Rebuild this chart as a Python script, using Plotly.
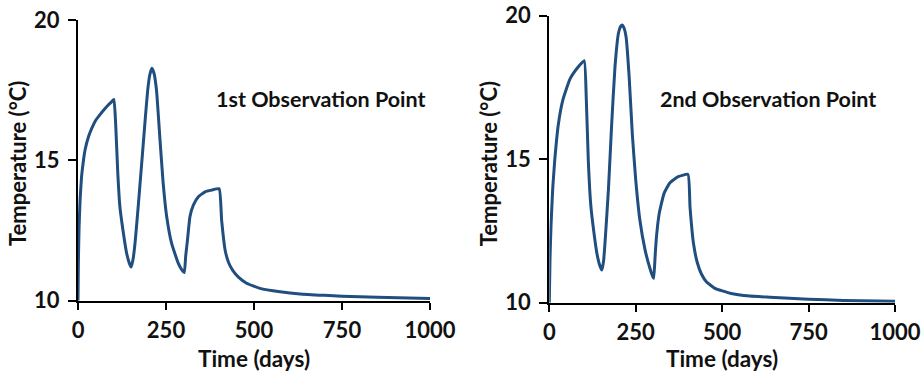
import plotly.graph_objects as go

# Temperature history at two observation points (days, degrees C)
obs1_days = [0, 1, 3, 6, 10, 15, 20, 30, 39, 50, 62, 75, 86, 95, 102,
             107, 113, 119, 129, 138, 146, 151, 156, 162, 171, 181, 190, 198, 204, 210, 216,
             223, 233, 242, 252, 266, 285, 296, 302, 306, 311, 318, 328, 342, 361, 380, 401,
             408, 418, 428, 440, 455, 479, 517, 574, 631, 700, 750, 850, 1000]
obs1_temp = [10.0, 11.3, 12.6, 13.6, 14.4, 14.95, 15.37, 15.85, 16.14, 16.42, 16.62, 16.82, 16.97, 17.08, 17.17,
             16.3, 14.55, 13.35, 12.4, 11.7, 11.33, 11.2, 11.45, 12.04, 13.35, 14.9, 16.32, 17.5, 18.05, 18.28, 18.1,
             17.5, 15.72, 14.18, 12.99, 12.04, 11.33, 11.08, 11.0, 11.6, 12.16, 12.99, 13.41, 13.7, 13.88, 13.94, 13.99,
             12.87, 11.8, 11.35, 11.07, 10.85, 10.62, 10.44, 10.32, 10.24, 10.19, 10.16, 10.12, 10.08]

obs2_days = [0, 2, 5, 10, 16, 26, 40, 60, 84, 101,
             107, 113, 120, 129, 138, 146, 152, 157, 161, 171, 180, 190, 200, 206, 211, 216,
             222, 231, 240, 250, 262, 277, 291, 299, 302, 306, 310, 318, 332, 349, 373, 401,
             407, 417, 428, 440, 455, 479, 523, 580, 638, 750, 850, 1000]
obs2_temp = [10.0, 11.5, 12.7, 14.0, 15.0, 16.2, 17.1, 17.8, 18.22, 18.43,
             17.1, 14.9, 13.4, 12.45, 11.7, 11.3, 11.14, 11.45, 12.07, 13.93, 16.13, 18.22, 19.39, 19.62, 19.68, 19.58,
             19.27, 17.87, 15.9, 14.28, 12.88, 11.84, 11.2, 10.92, 10.85, 11.6, 12.3, 13.11, 13.81, 14.18, 14.39, 14.47,
             13.34, 12.07, 11.4, 11.0, 10.72, 10.5, 10.33, 10.23, 10.19, 10.12, 10.08, 10.05]

x_ticks = [0, 250, 500, 750, 1000]
y_ticks = [10, 15, 20]
panel_labels = ["1st Observation Point", "2nd Observation Point"]

LINE = "#1f4e7f"
TICK_FONT = dict(family="Lato", size=22, color="#111111", weight="bold")
TITLE_FONT = dict(family="Lato", size=22.5, color="#111111", weight="bold")
YTITLE_FONT = dict(family="Lato", size=22, color="#111111", weight="bold")
LABEL_FONT = dict(family="Lato", size=21.5, color="#111111", weight="bold")

fig = go.Figure()
fig.add_trace(go.Scatter(x=obs1_days, y=obs1_temp, mode="lines",
                         line=dict(color=LINE, width=3, shape="spline", smoothing=0.4),
                         xaxis="x", yaxis="y", showlegend=False))
fig.add_trace(go.Scatter(x=obs2_days, y=obs2_temp, mode="lines",
                         line=dict(color=LINE, width=3, shape="spline", smoothing=0.4),
                         xaxis="x2", yaxis="y2", showlegend=False))

W, H = 922, 372


def xaxis_cfg(domain, anchor):
    return dict(domain=domain, anchor=anchor, range=[0, 1000], tickvals=x_ticks,
                showline=True, linecolor="black", linewidth=2, ticks="outside",
                ticklen=7, tickwidth=1.5, tickcolor="black", showgrid=False,
                zeroline=False, tickfont=TICK_FONT, ticklabelstandoff=2,
                automargin=False)


def yaxis_cfg(domain, anchor):
    return dict(domain=domain, anchor=anchor, range=[10, 20], tickvals=y_ticks,
                showline=True, linecolor="black", linewidth=2, ticks="outside",
                ticklen=8, tickwidth=1.5, tickcolor="black", showgrid=False,
                zeroline=False, tickfont=TICK_FONT, ticklabelstandoff=4,
                automargin=False)


# panel extents in pixels: (left, right, top, bottom)
p1 = (78, 430, 20, 300.7)
p2 = (549.3, 895, 15.7, 302.7)


def xd(p):
    return [p[0] / W, p[1] / W]


def yd(p):
    return [(H - p[3]) / H, (H - p[2]) / H]


annotations = []
for p, label, lx in ((p1, panel_labels[0], 214), (p2, panel_labels[1], 658)):
    annotations.append(dict(text=label, xref="paper", yref="paper", x=lx / W, y=(H - 99) / H,
                            xanchor="left", yanchor="middle", showarrow=False, font=LABEL_FONT))
    annotations.append(dict(text="Time (days)", xref="paper", yref="paper",
                            x=(p[0] + p[1]) / 2 / W, y=(H - 358) / H,
                            xanchor="center", yanchor="middle", showarrow=False, font=TITLE_FONT))
    annotations.append(dict(text="Temperature (°C)", xref="paper", yref="paper",
                            x=(p[0] - 61) / W, y=(H - 164) / H, textangle=-90,
                            xanchor="center", yanchor="middle", showarrow=False, font=YTITLE_FONT))

fig.update_layout(
    width=W, height=H,
    margin=dict(l=0, r=0, t=0, b=0),
    paper_bgcolor="white", plot_bgcolor="white",
    xaxis=xaxis_cfg(xd(p1), "y"),
    yaxis=yaxis_cfg(yd(p1), "x"),
    xaxis2=xaxis_cfg(xd(p2), "y2"),
    yaxis2=yaxis_cfg(yd(p2), "x2"),
    annotations=annotations,
)

fig.write_html("out.html")
